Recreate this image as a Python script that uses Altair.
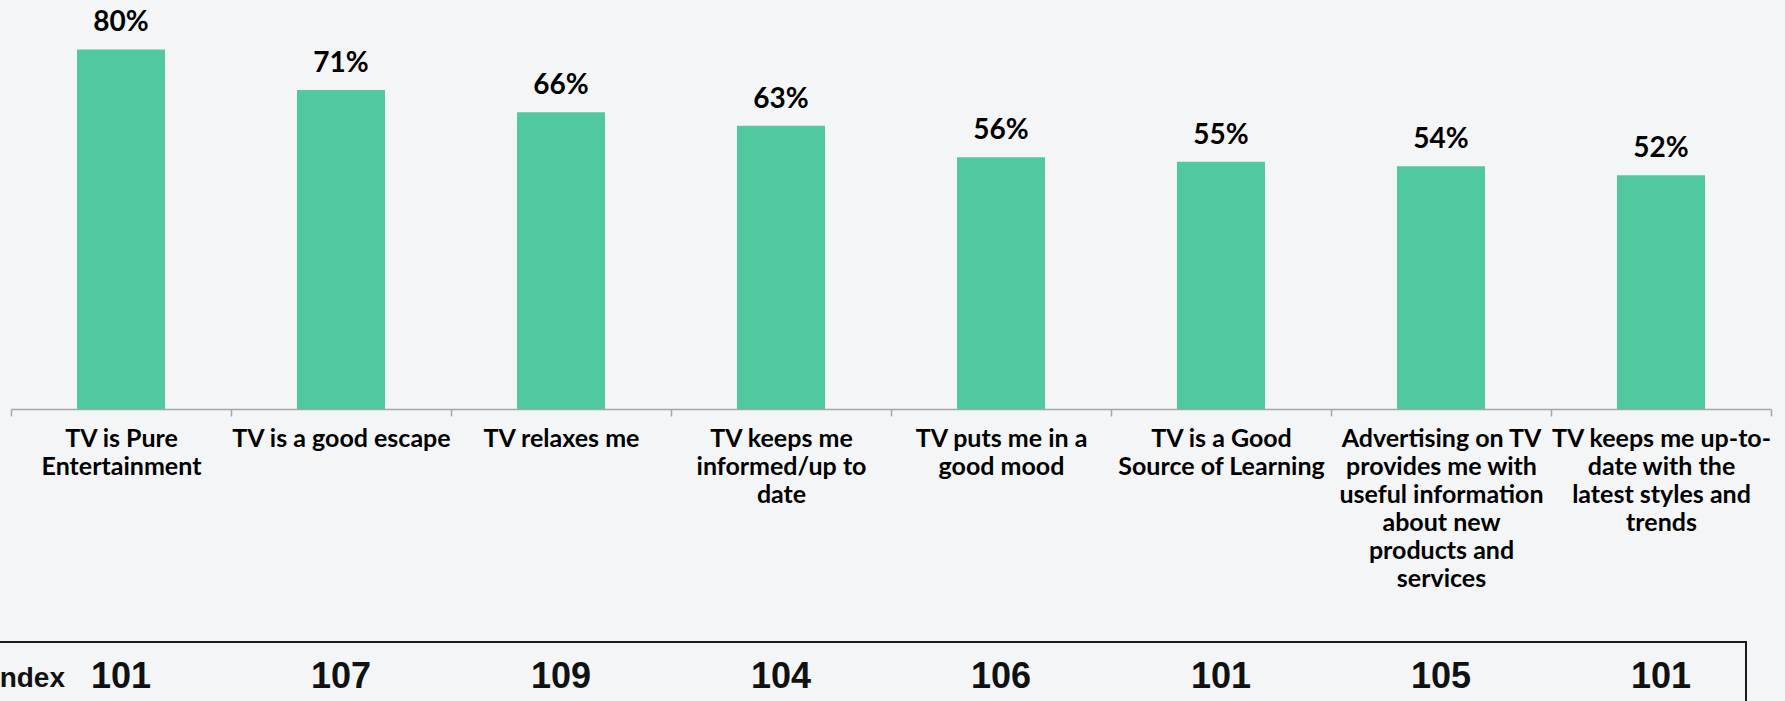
import altair as alt
import pandas as pd

# ---- data ----
categories = [
    "TV is Pure|Entertainment",
    "TV is a good escape",
    "TV relaxes me",
    "TV keeps me|informed/up to|date",
    "TV puts me in a|good mood",
    "TV is a Good|Source of Learning",
    "Advertising on TV|provides me with|useful information|about new|products and|services",
    "TV keeps me up-to-|date with the|latest styles and|trends",
]
values = [80, 71, 66, 63, 56, 55, 54, 52]
index_values = [101, 107, 109, 104, 106, 101, 105, 101]
index_title = ["Index"]

df = pd.DataFrame({
    "cat": categories,
    "value": values,
    "label": [f"{v}%" for v in values],
    "idx": [str(v) for v in index_values],
})

FONT = "Lato"
NUMFONT = "Liberation Sans"
BAR = "#51C9A0"
GREY = "#a6a6a6"

x_enc = alt.X(
    "cat:N",
    sort=None,
    scale=alt.Scale(paddingInner=0, paddingOuter=0),
    axis=alt.Axis(
        title=None,
        labelAngle=0,
        labelExpr="split(datum.label, '|')",
        tickBand="extent",
        domainColor=GREY,
        tickColor=GREY,
        domainWidth=1.5,
        tickWidth=1.5,
        tickSize=7,
        labelFont=FONT,
        labelFontSize=25,
        labelFontWeight="bold",
        labelColor="black",
        labelPadding=10,
        labelLineHeight=28,
        labelLimit=400,
        labelOverlap=False,
    ),
)
y_enc = alt.Y("value:Q", scale=alt.Scale(domain=[0, 91], nice=False), axis=None)

base = alt.Chart(df)

bars = base.mark_bar(color=BAR, width=alt.RelativeBandSize(0.4)).encode(x=x_enc, y=y_enc)

pct = base.mark_text(
    dy=-18, baseline="alphabetic", font=FONT, fontSize=28, fontWeight="bold", color="black"
).encode(x=alt.X("cat:N", sort=None), y=y_enc, text="label:N")

idx = base.mark_text(
    baseline="alphabetic", font=NUMFONT, fontSize=36, fontWeight="bold", color="#111111"
).encode(x=alt.X("cat:N", sort=None), y=alt.value(688), text="idx:N")

box = alt.Chart(pd.DataFrame({"t": index_title})).mark_rect(
    fillOpacity=0, stroke="#1a1a1a", strokeWidth=2
).encode(x=alt.value(-40), x2=alt.value(1735), y=alt.value(642), y2=alt.value(780))

idx_title = alt.Chart(pd.DataFrame({"t": index_title})).mark_text(
    align="right", baseline="alphabetic", font=NUMFONT, fontSize=28, fontWeight="bold", color="#111111"
).encode(x=alt.value(54), y=alt.value(687), text="t:N")

chart = alt.layer(bars, pct, box, idx, idx_title).properties(
    width=1760,
    height=409,
    background="#f4f5f7",
    padding={"left": 11, "top": 0, "right": 14, "bottom": 292},
    autosize=alt.AutoSizeParams(type="none"),
).configure_view(stroke=None)

chart.save("out.html", embed_options={"renderer": "svg", "actions": False})
